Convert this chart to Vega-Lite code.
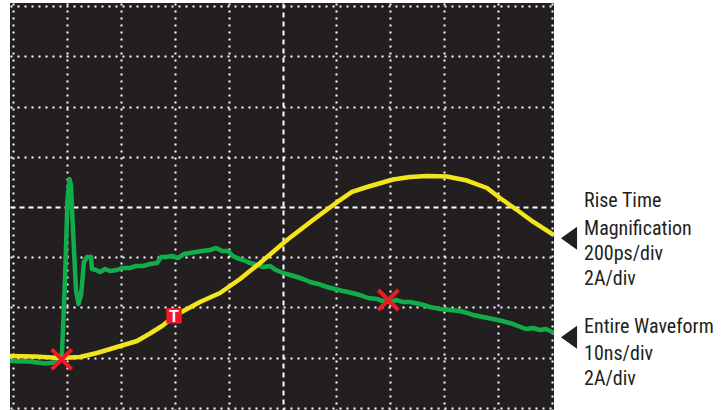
{
  "$schema": "https://vega.github.io/schema/vega-lite/v6.json",
  "width": 544,
  "height": 407,
  "autosize": {"type": "none"},
  "padding": {"left": 10, "top": 3, "right": 174, "bottom": 0},
  "background": "#ffffff",
  "config": {
    "view": {"fill": "#231f20", "stroke": null},
    "axis": {"domain": false, "ticks": false, "labels": false, "title": null}
  },
  "datasets": {
    "green": [
      {"x": -0.056, "y": 0.935}, {"x": 0.315, "y": 0.925}, {"x": 0.594, "y": 0.886}, {"x": 0.835, "y": 0.915},
      {"x": 0.909, "y": 1.095}, {"x": 0.965, "y": 2.547}, {"x": 1.011, "y": 4.139}, {"x": 1.048, "y": 4.557},
      {"x": 1.076, "y": 4.438}, {"x": 1.113, "y": 3.542}, {"x": 1.169, "y": 2.348}, {"x": 1.215, "y": 2.07},
      {"x": 1.262, "y": 2.249}, {"x": 1.317, "y": 2.905}, {"x": 1.373, "y": 3.005}, {"x": 1.447, "y": 3.005},
      {"x": 1.466, "y": 2.766}, {"x": 1.54, "y": 2.746}, {"x": 1.614, "y": 2.706}, {"x": 1.707, "y": 2.766},
      {"x": 1.8, "y": 2.726}, {"x": 1.929, "y": 2.746}, {"x": 2.022, "y": 2.786}, {"x": 2.171, "y": 2.786},
      {"x": 2.282, "y": 2.826}, {"x": 2.412, "y": 2.826}, {"x": 2.542, "y": 2.866}, {"x": 2.672, "y": 2.886},
      {"x": 2.746, "y": 3.005}, {"x": 2.839, "y": 3.005}, {"x": 2.95, "y": 3.025}, {"x": 3.061, "y": 2.985},
      {"x": 3.173, "y": 3.065}, {"x": 3.284, "y": 3.085}, {"x": 3.395, "y": 3.104}, {"x": 3.506, "y": 3.124},
      {"x": 3.655, "y": 3.144}, {"x": 3.766, "y": 3.184}, {"x": 3.878, "y": 3.124}, {"x": 3.989, "y": 3.124},
      {"x": 4.082, "y": 3.025}, {"x": 4.156, "y": 2.985}, {"x": 4.267, "y": 2.945}, {"x": 4.397, "y": 2.886},
      {"x": 4.527, "y": 2.846}, {"x": 4.638, "y": 2.806}, {"x": 4.768, "y": 2.826}, {"x": 4.879, "y": 2.746},
      {"x": 5.009, "y": 2.687}, {"x": 5.139, "y": 2.647}, {"x": 5.269, "y": 2.607}, {"x": 5.38, "y": 2.567},
      {"x": 5.51, "y": 2.507}, {"x": 5.659, "y": 2.468}, {"x": 5.826, "y": 2.408}, {"x": 5.974, "y": 2.368},
      {"x": 6.122, "y": 2.328}, {"x": 6.289, "y": 2.289}, {"x": 6.438, "y": 2.249}, {"x": 6.586, "y": 2.189},
      {"x": 6.753, "y": 2.169}, {"x": 6.865, "y": 2.129}, {"x": 6.994, "y": 2.109}, {"x": 7.124, "y": 2.149},
      {"x": 7.236, "y": 2.109}, {"x": 7.365, "y": 2.109}, {"x": 7.551, "y": 2.07}, {"x": 7.737, "y": 2.01},
      {"x": 7.922, "y": 1.97}, {"x": 8.108, "y": 1.95}, {"x": 8.293, "y": 1.93}, {"x": 8.423, "y": 1.891},
      {"x": 8.534, "y": 1.851}, {"x": 8.72, "y": 1.811}, {"x": 8.905, "y": 1.771}, {"x": 9.072, "y": 1.731},
      {"x": 9.221, "y": 1.692}, {"x": 9.369, "y": 1.632}, {"x": 9.518, "y": 1.572}, {"x": 9.648, "y": 1.592},
      {"x": 9.777, "y": 1.552}, {"x": 9.889, "y": 1.572}, {"x": 10.0, "y": 1.518}
    ],
    "yellow": [
      {"x": -0.056, "y": 1.035}, {"x": 0.408, "y": 1.025}, {"x": 0.872, "y": 0.995}, {"x": 1.243, "y": 1.015},
      {"x": 1.558, "y": 1.095}, {"x": 1.929, "y": 1.214}, {"x": 2.301, "y": 1.333}, {"x": 2.542, "y": 1.483},
      {"x": 2.764, "y": 1.632}, {"x": 3.024, "y": 1.851}, {"x": 3.469, "y": 2.109}, {"x": 3.84, "y": 2.289},
      {"x": 4.212, "y": 2.567}, {"x": 4.583, "y": 2.886}, {"x": 5.083, "y": 3.343}, {"x": 5.566, "y": 3.741},
      {"x": 6.067, "y": 4.139}, {"x": 6.289, "y": 4.299}, {"x": 6.568, "y": 4.398}, {"x": 7.05, "y": 4.547},
      {"x": 7.365, "y": 4.597}, {"x": 7.681, "y": 4.617}, {"x": 8.052, "y": 4.607}, {"x": 8.423, "y": 4.527},
      {"x": 8.794, "y": 4.378}, {"x": 9.035, "y": 4.179}, {"x": 9.351, "y": 3.94}, {"x": 9.648, "y": 3.707},
      {"x": 10.0, "y": 3.463}
    ],
    "crosses": [{"x": 0.904, "y": 0.969}, {"x": 6.963, "y": 2.149}],
    "trigger": [{"x": 2.987, "y": 1.835, "label": "T"}],
    "arrows": [{"x": 10.315, "y": 3.377}, {"x": 10.315, "y": 1.407}],
    "labels": [
      {"x": 10.594, "y": 4.0, "label": "Rise Time"},
      {"x": 10.594, "y": 3.443, "label": "Magnification"},
      {"x": 10.594, "y": 2.945, "label": "200ps/div"},
      {"x": 10.594, "y": 2.448, "label": "2A/div"},
      {"x": 10.594, "y": 1.487, "label": "Entire Waveform"},
      {"x": 10.594, "y": 0.955, "label": "10ns/div"},
      {"x": 10.594, "y": 0.458, "label": "2A/div"}
    ]
  },
  "layer": [
    {
      "data": {"name": "green"},
      "mark": {"type": "line", "color": "#12ad4b", "strokeWidth": 4.5, "strokeJoin": "round", "strokeCap": "round", "clip": true},
      "encoding": {
        "x": {
          "field": "x", "type": "quantitative",
          "scale": {"domain": [-0.0557, 10.037], "nice": false, "zero": false},
          "axis": {
            "values": [0, 1, 2, 3, 4, 5, 6, 7, 8, 9, 10],
            "grid": true, "gridColor": "#ffffff", "gridWidth": 2, "gridOpacity": 1,
            "gridDash": {"condition": {"test": "datum.value === 5", "value": [5, 4]}, "value": [2, 5]}
          }
        },
        "y": {
          "field": "y", "type": "quantitative",
          "scale": {"domain": [-0.04, 8.06], "nice": false, "zero": false},
          "axis": {
            "values": [0, 1, 2, 3, 4, 5, 6, 7, 8],
            "grid": true, "gridColor": "#ffffff", "gridWidth": 2, "gridOpacity": 1,
            "gridDash": {"condition": {"test": "datum.value === 4", "value": [5, 4]}, "value": [2, 5]}
          }
        }
      }
    },
    {
      "data": {"name": "yellow"},
      "mark": {"type": "line", "color": "#f2e51b", "strokeWidth": 4.5, "strokeJoin": "round", "strokeCap": "round", "clip": true},
      "encoding": {
        "x": {"field": "x", "type": "quantitative"},
        "y": {"field": "y", "type": "quantitative"}
      }
    },
    {
      "data": {"name": "crosses"},
      "mark": {"type": "point", "shape": "M-1,-1L1,1M1,-1L-1,1", "size": 400, "filled": false, "stroke": "#ed1c24", "strokeWidth": 4, "opacity": 1},
      "encoding": {
        "x": {"field": "x", "type": "quantitative"},
        "y": {"field": "y", "type": "quantitative"}
      }
    },
    {
      "data": {"name": "trigger"},
      "mark": {"type": "point", "shape": "square", "size": 240, "filled": true, "color": "#ed1c24", "opacity": 1},
      "encoding": {
        "x": {"field": "x", "type": "quantitative"},
        "y": {"field": "y", "type": "quantitative"}
      }
    },
    {
      "data": {"name": "trigger"},
      "mark": {"type": "text", "color": "#ffffff", "font": "Liberation Sans, Arial, sans-serif", "fontWeight": "bold", "fontSize": 16, "align": "center", "baseline": "middle", "dy": 1},
      "encoding": {
        "x": {"field": "x", "type": "quantitative"},
        "y": {"field": "y", "type": "quantitative"},
        "text": {"field": "label"}
      }
    },
    {
      "data": {"name": "arrows"},
      "mark": {"type": "point", "shape": "M-0.7,0L0.7,-1L0.7,1Z", "size": 529, "filled": true, "color": "#231f20", "opacity": 1},
      "encoding": {
        "x": {"field": "x", "type": "quantitative"},
        "y": {"field": "y", "type": "quantitative"}
      }
    },
    {
      "data": {"name": "labels"},
      "mark": {"type": "text", "align": "left", "baseline": "alphabetic", "font": "Liberation Sans Narrow, Arial Narrow, Roboto Condensed, Roboto, sans-serif", "fontSize": 20, "color": "#231f20"},
      "encoding": {
        "x": {"field": "x", "type": "quantitative"},
        "y": {"field": "y", "type": "quantitative"},
        "text": {"field": "label"}
      }
    }
  ]
}
